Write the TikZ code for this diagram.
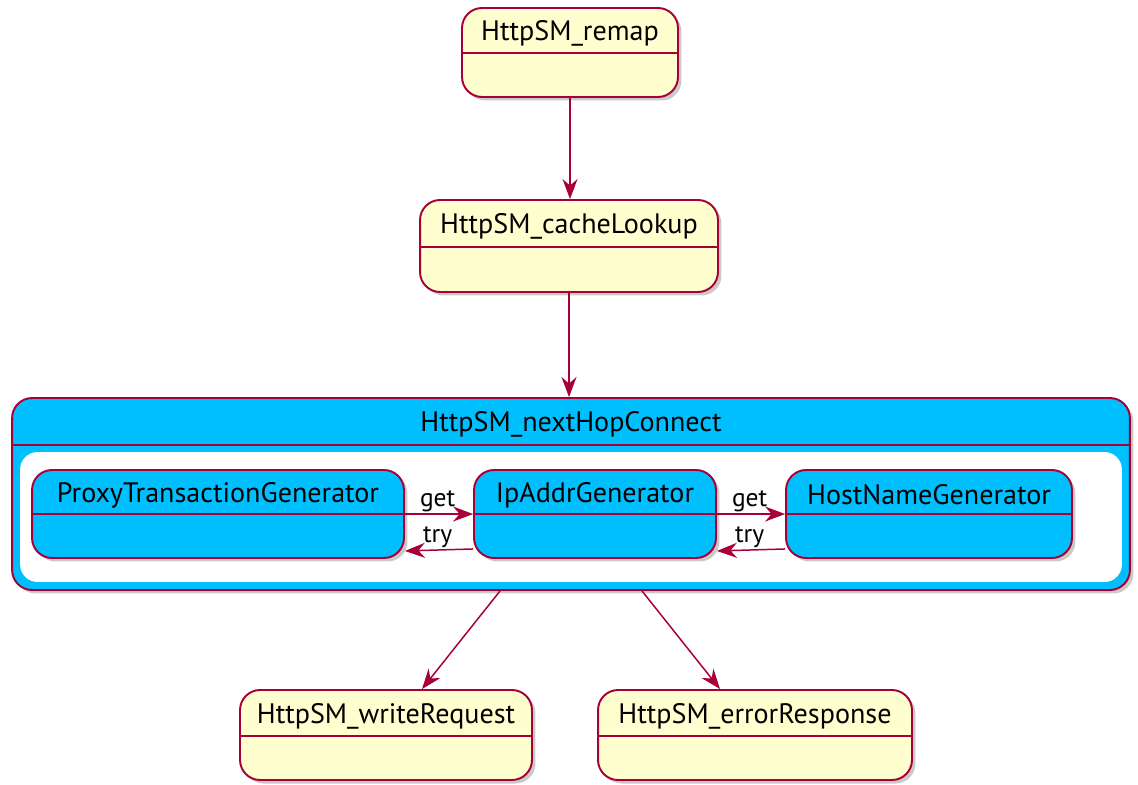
\documentclass[tikz,border=0pt]{standalone}
\usepackage{fontspec}
\setmainfont{PT Sans}
\usepackage{tikz}
\usetikzlibrary{arrows.meta,shadows}
\definecolor{umlred}{HTML}{A80036}
\definecolor{umlcream}{HTML}{FEFECE}
\definecolor{umlblue}{HTML}{00BFFF}

\tikzset{
  state/.style={draw=umlred, fill=umlcream, line width=1.1pt, rounded corners=0.4cm,
    drop shadow={shadow xshift=0.07cm, shadow yshift=-0.07cm, opacity=0.35, fill=black!60}},
  substate/.style={state, fill=umlblue},
  title/.style={font=\fontsize{16}{19}\selectfont, text=black},
  divider/.style={draw=umlred, line width=1.1pt},
  flow/.style={draw=umlred, line width=0.85pt, -{Stealth[length=0.4cm, width=0.3cm, inset=0.13cm]}},
  tag/.style={font=\fontsize{14.5}{17}\selectfont, text=black, inner sep=1pt}
}

\begin{document}
\begin{tikzpicture}[x=0.02cm, y=-0.02cm]
        \useasboundingbox (0,0) rectangle (1138,784);

        % Top states
        \node (remap) [state, minimum width=4.32cm, minimum height=1.78cm] at (570,52.5) {};
        \draw[divider] ([yshift=-0.92cm]remap.north west) -- ([yshift=-0.92cm]remap.north east);
        \node[title] at ([yshift=-0.52cm]remap.north) {HttpSM\_remap};

        \node (cacheLookup) [state, minimum width=5.96cm, minimum height=1.84cm] at (569,246) {};
        \draw[divider] ([yshift=-0.96cm]cacheLookup.north west) -- ([yshift=-0.96cm]cacheLookup.north east);
        \node[title] at ([yshift=-0.54cm]cacheLookup.north) {HttpSM\_cacheLookup};

        % Composite state
        \node (nextHop) [substate, minimum width=22.36cm, minimum height=3.84cm] at (571,494) {};
        \draw[divider] ([yshift=-0.96cm]nextHop.north west) -- ([yshift=-0.96cm]nextHop.north east);
        \node[title] at ([yshift=-0.54cm]nextHop.north) {HttpSM\_nextHopConnect};
        \node (inner) [fill=white, rounded corners=0.35cm, minimum width=22.04cm, minimum height=2.6cm] at (571,517) {};

        \node (proxy) [substate, minimum width=7.44cm, minimum height=1.76cm] at (218,514) {};
        \draw[divider] ([yshift=-0.9cm]proxy.north west) -- ([yshift=-0.9cm]proxy.north east);
        \node[title] at ([yshift=-0.52cm]proxy.north) {ProxyTransactionGenerator};

        \node (ipAddr) [substate, minimum width=4.84cm, minimum height=1.76cm] at (595,514) {};
        \draw[divider] ([yshift=-0.9cm]ipAddr.north west) -- ([yshift=-0.9cm]ipAddr.north east);
        \node[title] at ([yshift=-0.52cm]ipAddr.north) {IpAddrGenerator};

        \node (hostName) [substate, minimum width=5.72cm, minimum height=1.76cm] at (929,514) {};
        \draw[divider] ([yshift=-0.9cm]hostName.north west) -- ([yshift=-0.9cm]hostName.north east);
        \node[title] at ([yshift=-0.52cm]hostName.north) {HostNameGenerator};

        % Bottom states
        \node (writeRequest) [state, minimum width=5.84cm, minimum height=1.8cm] at (386,735) {};
        \draw[divider] ([yshift=-0.94cm]writeRequest.north west) -- ([yshift=-0.94cm]writeRequest.north east);
        \node[title] at ([yshift=-0.54cm]writeRequest.north) {HttpSM\_writeRequest};

        \node (errorResponse) [state, minimum width=6.28cm, minimum height=1.8cm] at (755,735) {};
        \draw[divider] ([yshift=-0.94cm]errorResponse.north west) -- ([yshift=-0.94cm]errorResponse.north east);
        \node[title] at ([yshift=-0.54cm]errorResponse.north) {HttpSM\_errorResponse};

        % Transitions
        \draw[flow] (remap.south) -- (remap.south |- cacheLookup.north);
        \draw[flow] (cacheLookup.south) -- (cacheLookup.south |- nextHop.north);

        \draw[flow] ([yshift=-0.9cm]proxy.north east) -- ([yshift=-0.9cm]ipAddr.north west)
            node[tag, above, pos=0.48] {get};
        \draw[flow] ([yshift=0.2cm]ipAddr.south west) -- ([yshift=0.16cm]proxy.south east)
            node[tag, above, pos=0.52] {try};
        \draw[flow] ([yshift=-0.9cm]ipAddr.north east) -- ([yshift=-0.9cm]hostName.north west)
            node[tag, above, pos=0.48] {get};
        \draw[flow] ([yshift=0.2cm]hostName.south west) -- ([yshift=0.16cm]ipAddr.south east)
            node[tag, above, pos=0.52] {try};

        \draw[flow] ([xshift=-1.42cm]nextHop.south) -- ([xshift=0.72cm]writeRequest.north);
        \draw[flow] ([xshift=1.42cm]nextHop.south) -- ([xshift=-0.7cm]errorResponse.north);
    \end{tikzpicture}
\end{document}
